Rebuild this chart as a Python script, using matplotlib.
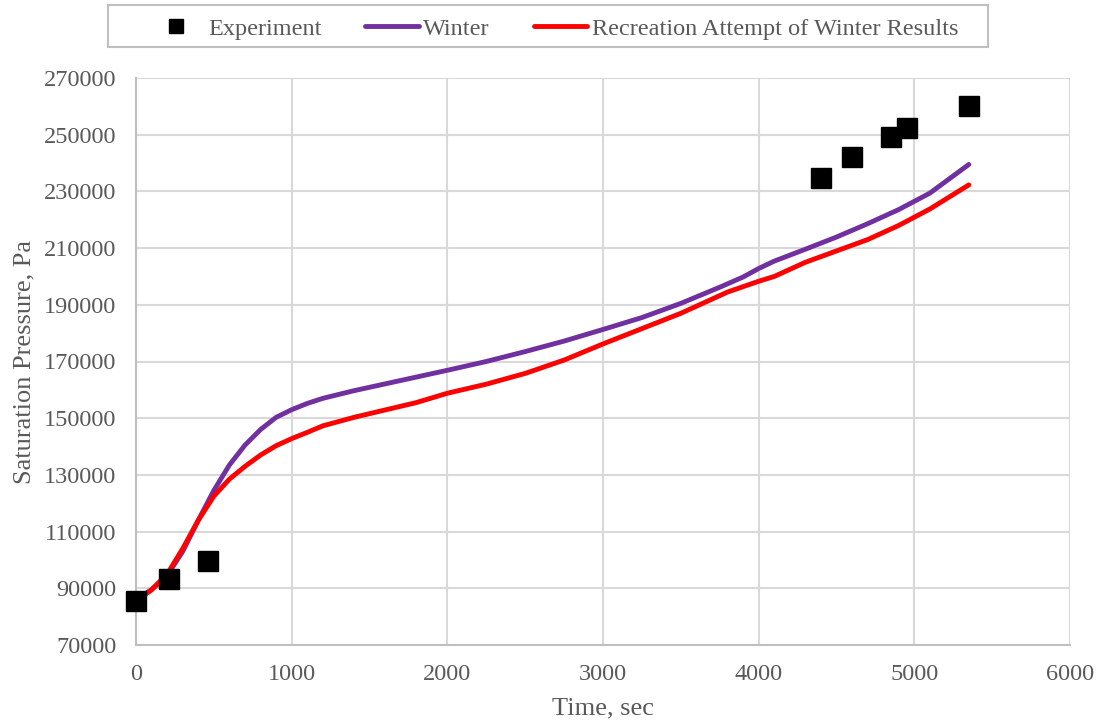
import numpy as np
import matplotlib.pyplot as plt
from matplotlib.patches import Rectangle

plt.rcParams['font.family'] = ['Liberation Serif', 'DejaVu Serif']

# experimental saturation pressure
exp_t = [0, 212, 462, 4400, 4600, 4850, 4950, 5350]
exp_p = [85500, 93200, 99600, 234700, 242100, 249200, 252200, 260100]

# Winter model
winter_t = [0, 100, 200, 300, 400, 500, 600, 700, 800, 900, 1000, 1100, 1200, 1400,
            1600, 1800, 2000, 2250, 2500, 2750, 3000, 3250, 3500, 3750, 3900, 4000,
            4100, 4300, 4500, 4700, 4900, 5100, 5350]
winter_p = [86000, 89500, 94500, 103000, 114000, 124500, 133500, 140500, 146000, 150300,
            153000, 155200, 157000, 159700, 162100, 164500, 166900, 170000, 173500, 177200,
            181300, 185500, 190500, 196200, 199800, 202800, 205400, 209600, 213900, 218600,
            223600, 229400, 239500]

# recreation attempt
recr_t = [0, 100, 200, 300, 400, 500, 600, 700, 800, 900, 1000, 1100, 1200, 1400,
          1600, 1800, 2000, 2250, 2500, 2750, 3000, 3250, 3500, 3800, 4000, 4100,
          4300, 4500, 4700, 4900, 5100, 5350]
recr_p = [85500, 89500, 95000, 104000, 114000, 122500, 128500, 133000, 137000, 140300,
          142800, 145000, 147300, 150300, 152900, 155500, 158800, 162000, 165800, 170500,
          176200, 181600, 187000, 194500, 198300, 200000, 205000, 209000, 213000, 218000,
          223800, 232300]

W, H = 1103, 728
fig, ax = plt.subplots(figsize=(W / 100, H / 100), dpi=100)
fig.subplots_adjust(left=136 / W, right=1070 / W, top=1 - 78 / H, bottom=1 - 645 / H)

ax.plot(exp_t, exp_p, 's', color='black', markersize=14, label='Experiment',
        zorder=4, clip_on=False)
ax.plot(winter_t, winter_p, color='#7030a0', linewidth=3.5, label='Winter', zorder=3,
        solid_capstyle='round')
ax.plot(recr_t, recr_p, color='#ff0000', linewidth=3.5,
        label='Recreation Attempt of Winter Results', zorder=3, solid_capstyle='round')

ax.set_xlim(0, 6000)
ax.set_ylim(70000, 270000)
ax.set_xticks(np.arange(0, 6001, 1000))
ax.set_yticks(np.arange(70000, 270001, 20000))
ax.grid(True, color='#d9d9d9', linewidth=1.5)
ax.set_axisbelow(True)

for s in ['top', 'right']:
    ax.spines[s].set_visible(False)
for s in ['left', 'bottom']:
    ax.spines[s].set_color('#bfbfbf')
    ax.spines[s].set_linewidth(1.5)

ax.tick_params(length=0, labelsize=17.5, colors='#595959')
ax.tick_params(axis='y', pad=14)
ax.tick_params(axis='x', pad=14)
ax.set_xlabel('Time, sec', fontsize=19, color='#595959', labelpad=9)
ax.set_ylabel('Saturation Pressure, Pa', fontsize=19, color='#595959', labelpad=6)

# legend box on top
fig.patches.append(Rectangle((108 / W, 1 - 47 / H), 880 / W, 42 / H,
                             transform=fig.transFigure, facecolor='white',
                             edgecolor='#bfbfbf', linewidth=1.5))
leg = fig.legend(loc='center', bbox_to_anchor=(554 / W, 1 - 28.5 / H), ncol=3,
                 fontsize=17.5, frameon=False,
                 handlelength=2.2, handletextpad=0.2, columnspacing=1.8,
                 borderpad=0.2, markerscale=0.7)
for t in leg.get_texts():
    t.set_color('#595959')

fig.savefig('out.png', dpi=100)
